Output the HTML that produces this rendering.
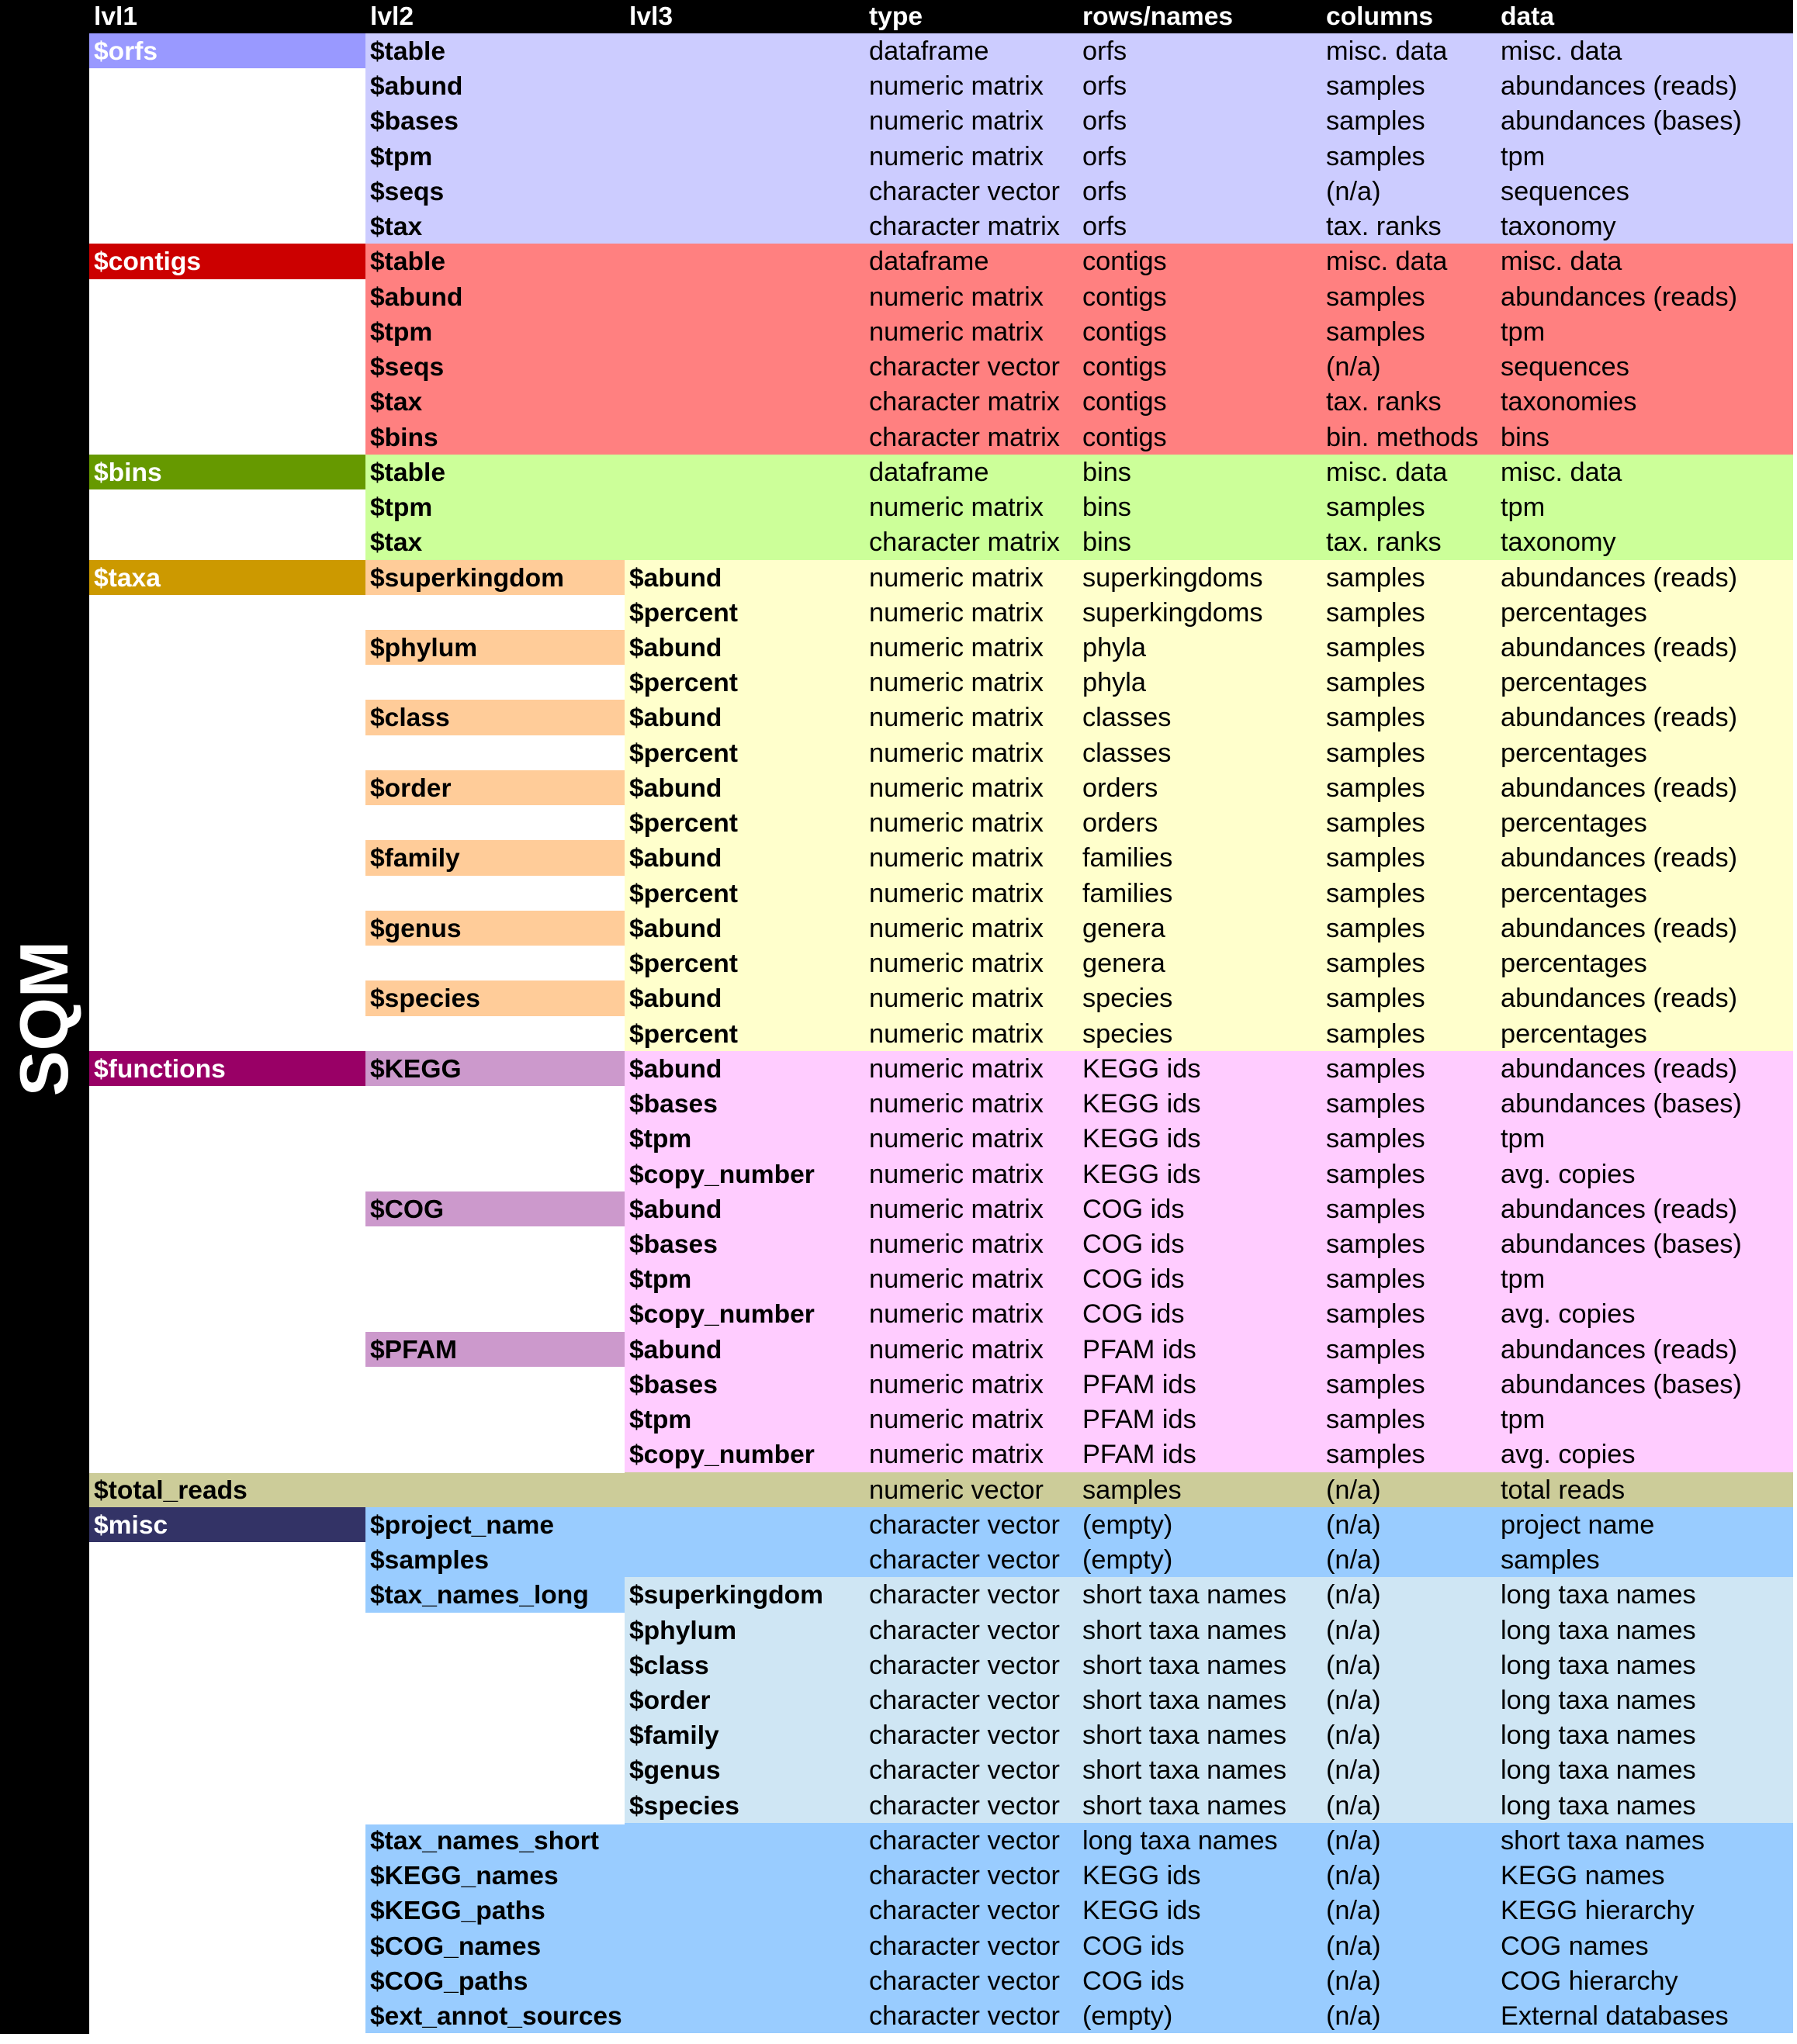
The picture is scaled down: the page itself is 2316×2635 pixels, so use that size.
<!DOCTYPE html>
<html><head><meta charset="utf-8"><style>
*{margin:0;padding:0;box-sizing:border-box}
body{width:2316px;height:2635px;background:#fff;position:relative;overflow:hidden;font-family:"Liberation Sans",sans-serif}
#side{position:absolute;left:0;top:0;width:115px;height:2622px;background:#000}
#sqm{position:absolute;left:57px;top:1313px;transform:translate(-50%,-50%) rotate(-90deg);color:#fff;font-weight:bold;font-size:88px;white-space:nowrap}
#hd{position:absolute;left:115px;top:0;width:2196px;height:43px;background:#000;color:#fff;font-weight:bold;font-size:33.6px}
#hd span{position:absolute;top:3px}
#rows{position:absolute;left:115px;top:43px;width:2196px}
.r{display:grid;grid-template-columns:356px 334px 309px 275px 314px 225px 383px;height:45.24px;font-size:34.3px;line-height:47px;white-space:nowrap}
.r i{font-style:normal;padding-left:6px;overflow:visible}
.r i:nth-child(-n+3){font-weight:bold;font-size:33.6px}
.w{background:#fff}
.o{background:#ccccff}.o1{background:#9999ff;color:#fff}
.c{background:#ff8080}.c1{background:#cc0000;color:#fff}
.b{background:#ccff99}.b1{background:#669900;color:#fff}
.t{background:#ffffcc}.t1{background:#cc9900;color:#fff}.t2{background:#ffcc99}
.f{background:#ffccff}.f1{background:#990066;color:#fff}.f2{background:#cc99cc}
.tr{background:#cccc99}
.m{background:#99ccff}.m1{background:#333366;color:#fff}.ml{background:#cfe6f4}
</style></head><body>
<div id="side"><div id="sqm">SQM</div></div>
<div id="hd"><span style="left:6px">lvl1</span><span style="left:362px">lvl2</span><span style="left:696px">lvl3</span><span style="left:1005px">type</span><span style="left:1280px">rows/names</span><span style="left:1594px">columns</span><span style="left:1819px">data</span></div>
<div id="rows">
<div class="r o"><i class="o1">$orfs</i><i>$table</i><i></i><i>dataframe</i><i>orfs</i><i>misc. data</i><i>misc. data</i></div>
<div class="r o"><i class="w"></i><i>$abund</i><i></i><i>numeric matrix</i><i>orfs</i><i>samples</i><i>abundances (reads)</i></div>
<div class="r o"><i class="w"></i><i>$bases</i><i></i><i>numeric matrix</i><i>orfs</i><i>samples</i><i>abundances (bases)</i></div>
<div class="r o"><i class="w"></i><i>$tpm</i><i></i><i>numeric matrix</i><i>orfs</i><i>samples</i><i>tpm</i></div>
<div class="r o"><i class="w"></i><i>$seqs</i><i></i><i>character vector</i><i>orfs</i><i>(n/a)</i><i>sequences</i></div>
<div class="r o"><i class="w"></i><i>$tax</i><i></i><i>character matrix</i><i>orfs</i><i>tax. ranks</i><i>taxonomy</i></div>
<div class="r c"><i class="c1">$contigs</i><i>$table</i><i></i><i>dataframe</i><i>contigs</i><i>misc. data</i><i>misc. data</i></div>
<div class="r c"><i class="w"></i><i>$abund</i><i></i><i>numeric matrix</i><i>contigs</i><i>samples</i><i>abundances (reads)</i></div>
<div class="r c"><i class="w"></i><i>$tpm</i><i></i><i>numeric matrix</i><i>contigs</i><i>samples</i><i>tpm</i></div>
<div class="r c"><i class="w"></i><i>$seqs</i><i></i><i>character vector</i><i>contigs</i><i>(n/a)</i><i>sequences</i></div>
<div class="r c"><i class="w"></i><i>$tax</i><i></i><i>character matrix</i><i>contigs</i><i>tax. ranks</i><i>taxonomies</i></div>
<div class="r c"><i class="w"></i><i>$bins</i><i></i><i>character matrix</i><i>contigs</i><i>bin. methods</i><i>bins</i></div>
<div class="r b"><i class="b1">$bins</i><i>$table</i><i></i><i>dataframe</i><i>bins</i><i>misc. data</i><i>misc. data</i></div>
<div class="r b"><i class="w"></i><i>$tpm</i><i></i><i>numeric matrix</i><i>bins</i><i>samples</i><i>tpm</i></div>
<div class="r b"><i class="w"></i><i>$tax</i><i></i><i>character matrix</i><i>bins</i><i>tax. ranks</i><i>taxonomy</i></div>
<div class="r t"><i class="t1">$taxa</i><i class="t2">$superkingdom</i><i>$abund</i><i>numeric matrix</i><i>superkingdoms</i><i>samples</i><i>abundances (reads)</i></div>
<div class="r t"><i class="w"></i><i class="w"></i><i>$percent</i><i>numeric matrix</i><i>superkingdoms</i><i>samples</i><i>percentages</i></div>
<div class="r t"><i class="w"></i><i class="t2">$phylum</i><i>$abund</i><i>numeric matrix</i><i>phyla</i><i>samples</i><i>abundances (reads)</i></div>
<div class="r t"><i class="w"></i><i class="w"></i><i>$percent</i><i>numeric matrix</i><i>phyla</i><i>samples</i><i>percentages</i></div>
<div class="r t"><i class="w"></i><i class="t2">$class</i><i>$abund</i><i>numeric matrix</i><i>classes</i><i>samples</i><i>abundances (reads)</i></div>
<div class="r t"><i class="w"></i><i class="w"></i><i>$percent</i><i>numeric matrix</i><i>classes</i><i>samples</i><i>percentages</i></div>
<div class="r t"><i class="w"></i><i class="t2">$order</i><i>$abund</i><i>numeric matrix</i><i>orders</i><i>samples</i><i>abundances (reads)</i></div>
<div class="r t"><i class="w"></i><i class="w"></i><i>$percent</i><i>numeric matrix</i><i>orders</i><i>samples</i><i>percentages</i></div>
<div class="r t"><i class="w"></i><i class="t2">$family</i><i>$abund</i><i>numeric matrix</i><i>families</i><i>samples</i><i>abundances (reads)</i></div>
<div class="r t"><i class="w"></i><i class="w"></i><i>$percent</i><i>numeric matrix</i><i>families</i><i>samples</i><i>percentages</i></div>
<div class="r t"><i class="w"></i><i class="t2">$genus</i><i>$abund</i><i>numeric matrix</i><i>genera</i><i>samples</i><i>abundances (reads)</i></div>
<div class="r t"><i class="w"></i><i class="w"></i><i>$percent</i><i>numeric matrix</i><i>genera</i><i>samples</i><i>percentages</i></div>
<div class="r t"><i class="w"></i><i class="t2">$species</i><i>$abund</i><i>numeric matrix</i><i>species</i><i>samples</i><i>abundances (reads)</i></div>
<div class="r t"><i class="w"></i><i class="w"></i><i>$percent</i><i>numeric matrix</i><i>species</i><i>samples</i><i>percentages</i></div>
<div class="r f"><i class="f1">$functions</i><i class="f2">$KEGG</i><i>$abund</i><i>numeric matrix</i><i>KEGG ids</i><i>samples</i><i>abundances (reads)</i></div>
<div class="r f"><i class="w"></i><i class="w"></i><i>$bases</i><i>numeric matrix</i><i>KEGG ids</i><i>samples</i><i>abundances (bases)</i></div>
<div class="r f"><i class="w"></i><i class="w"></i><i>$tpm</i><i>numeric matrix</i><i>KEGG ids</i><i>samples</i><i>tpm</i></div>
<div class="r f"><i class="w"></i><i class="w"></i><i>$copy_number</i><i>numeric matrix</i><i>KEGG ids</i><i>samples</i><i>avg. copies</i></div>
<div class="r f"><i class="w"></i><i class="f2">$COG</i><i>$abund</i><i>numeric matrix</i><i>COG ids</i><i>samples</i><i>abundances (reads)</i></div>
<div class="r f"><i class="w"></i><i class="w"></i><i>$bases</i><i>numeric matrix</i><i>COG ids</i><i>samples</i><i>abundances (bases)</i></div>
<div class="r f"><i class="w"></i><i class="w"></i><i>$tpm</i><i>numeric matrix</i><i>COG ids</i><i>samples</i><i>tpm</i></div>
<div class="r f"><i class="w"></i><i class="w"></i><i>$copy_number</i><i>numeric matrix</i><i>COG ids</i><i>samples</i><i>avg. copies</i></div>
<div class="r f"><i class="w"></i><i class="f2">$PFAM</i><i>$abund</i><i>numeric matrix</i><i>PFAM ids</i><i>samples</i><i>abundances (reads)</i></div>
<div class="r f"><i class="w"></i><i class="w"></i><i>$bases</i><i>numeric matrix</i><i>PFAM ids</i><i>samples</i><i>abundances (bases)</i></div>
<div class="r f"><i class="w"></i><i class="w"></i><i>$tpm</i><i>numeric matrix</i><i>PFAM ids</i><i>samples</i><i>tpm</i></div>
<div class="r f"><i class="w"></i><i class="w"></i><i>$copy_number</i><i>numeric matrix</i><i>PFAM ids</i><i>samples</i><i>avg. copies</i></div>
<div class="r tr"><i>$total_reads</i><i></i><i></i><i>numeric vector</i><i>samples</i><i>(n/a)</i><i>total reads</i></div>
<div class="r m"><i class="m1">$misc</i><i>$project_name</i><i></i><i>character vector</i><i>(empty)</i><i>(n/a)</i><i>project name</i></div>
<div class="r m"><i class="w"></i><i>$samples</i><i></i><i>character vector</i><i>(empty)</i><i>(n/a)</i><i>samples</i></div>
<div class="r ml"><i class="w"></i><i class="m">$tax_names_long</i><i>$superkingdom</i><i>character vector</i><i>short taxa names</i><i>(n/a)</i><i>long taxa names</i></div>
<div class="r ml"><i class="w"></i><i class="w"></i><i>$phylum</i><i>character vector</i><i>short taxa names</i><i>(n/a)</i><i>long taxa names</i></div>
<div class="r ml"><i class="w"></i><i class="w"></i><i>$class</i><i>character vector</i><i>short taxa names</i><i>(n/a)</i><i>long taxa names</i></div>
<div class="r ml"><i class="w"></i><i class="w"></i><i>$order</i><i>character vector</i><i>short taxa names</i><i>(n/a)</i><i>long taxa names</i></div>
<div class="r ml"><i class="w"></i><i class="w"></i><i>$family</i><i>character vector</i><i>short taxa names</i><i>(n/a)</i><i>long taxa names</i></div>
<div class="r ml"><i class="w"></i><i class="w"></i><i>$genus</i><i>character vector</i><i>short taxa names</i><i>(n/a)</i><i>long taxa names</i></div>
<div class="r ml"><i class="w"></i><i class="w"></i><i>$species</i><i>character vector</i><i>short taxa names</i><i>(n/a)</i><i>long taxa names</i></div>
<div class="r m"><i class="w"></i><i>$tax_names_short</i><i></i><i>character vector</i><i>long taxa names</i><i>(n/a)</i><i>short taxa names</i></div>
<div class="r m"><i class="w"></i><i>$KEGG_names</i><i></i><i>character vector</i><i>KEGG ids</i><i>(n/a)</i><i>KEGG names</i></div>
<div class="r m"><i class="w"></i><i>$KEGG_paths</i><i></i><i>character vector</i><i>KEGG ids</i><i>(n/a)</i><i>KEGG hierarchy</i></div>
<div class="r m"><i class="w"></i><i>$COG_names</i><i></i><i>character vector</i><i>COG ids</i><i>(n/a)</i><i>COG names</i></div>
<div class="r m"><i class="w"></i><i>$COG_paths</i><i></i><i>character vector</i><i>COG ids</i><i>(n/a)</i><i>COG hierarchy</i></div>
<div class="r m"><i class="w"></i><i>$ext_annot_sources</i><i></i><i>character vector</i><i>(empty)</i><i>(n/a)</i><i>External databases</i></div>
</div>
</body></html>
